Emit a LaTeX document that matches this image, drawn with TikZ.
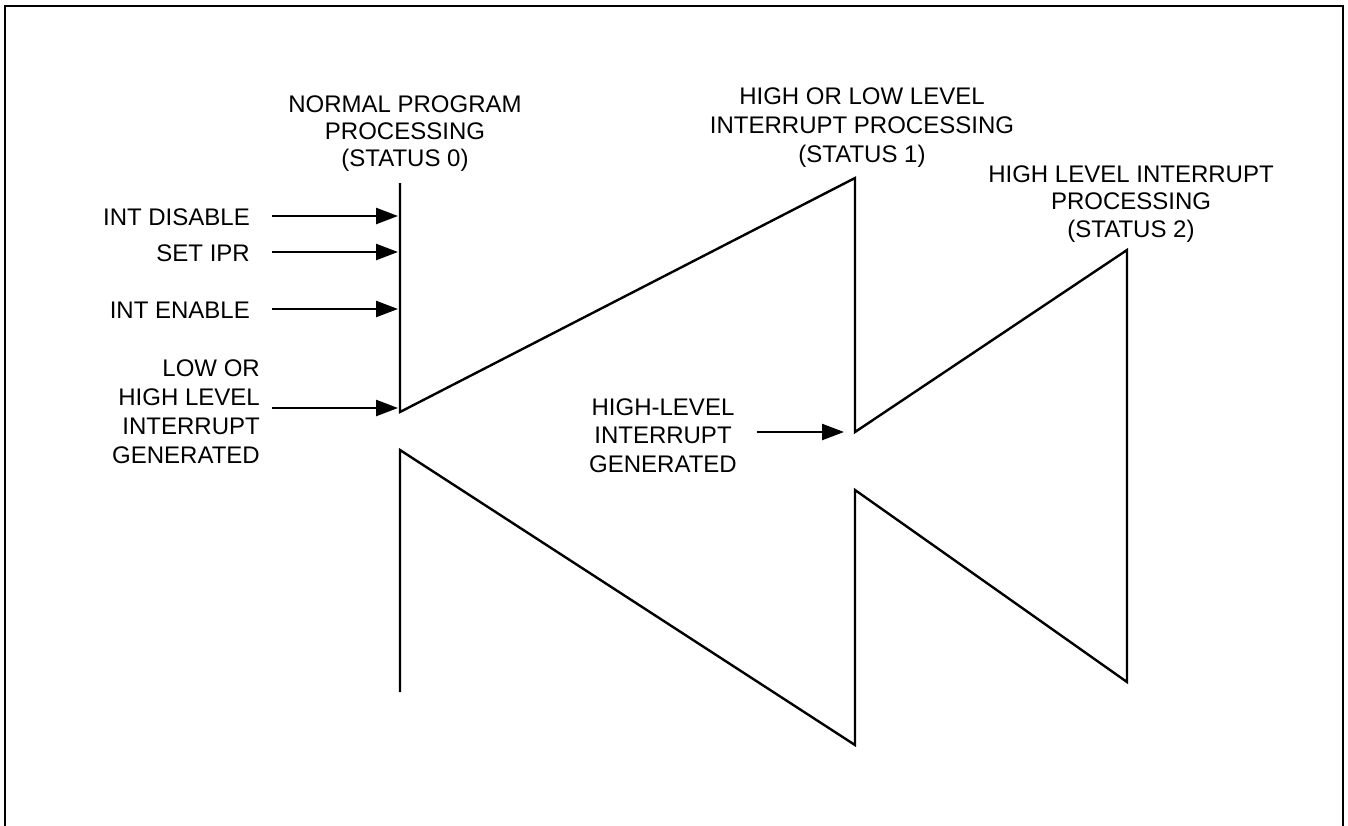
\documentclass[tikz,border=0pt]{standalone}
\usepackage{fontspec}
\setmainfont{Liberation Sans}
\usetikzlibrary{arrows.meta}
\tikzset{
  lbl/.style={inner sep=0pt, font=\fontsize{24}{29}\selectfont},
  ttl/.style={lbl, align=center, anchor=base},
  line/.style={line width=2.4pt, line join=miter},
  arr/.style={line width=2.4pt, -{Triangle[length=22pt,width=16pt]}},
  frame/.style={line width=2.4pt}
}
\begin{document}
\begin{tikzpicture}[x=1pt,y=-1pt]
\useasboundingbox (0,0) rectangle (1348,825);
% frame (open at bottom)
\coordinate (fbl) at (5,827);
\coordinate (ftl) at (5,6);
\coordinate (ftr) at (1343,6);
\coordinate (fbr) at (1343,827);
\draw[frame] (fbl) -- (ftl) -- (ftr) -- (fbr);

% zigzag
\coordinate (s0top) at (400,183);
\coordinate (v0) at (400,412);
\coordinate (p1) at (855,178);
\coordinate (v1) at (855,432);
\coordinate (p2) at (1127,250);
\coordinate (b2) at (1127,682);
\coordinate (q1) at (855,490);
\coordinate (b1) at (855,745);
\coordinate (s0b) at (400,450);
\coordinate (s0bot) at (400,692);
\draw[line] (s0top) -- (v0) -- (p1) -- (v1) -- (p2) -- (b2) -- (q1) -- (b1) -- (s0b) -- (s0bot);

% titles (anchor base = last line)
\node[ttl, font=\fontsize{24}{27}\selectfont] (t0) at (405,166) {NORMAL PROGRAM\\PROCESSING\\(STATUS 0)};
\node[ttl, font=\fontsize{24}{29}\selectfont] (t1) at (862,162) {HIGH OR LOW LEVEL\\INTERRUPT PROCESSING\\(STATUS 1)};
\node[ttl, font=\fontsize{24}{27.5}\selectfont] (t2) at (1131,237) {HIGH LEVEL INTERRUPT\\PROCESSING\\(STATUS 2)};

% left labels
\node[lbl, anchor=base east] (l1) at (250,225) {INT DISABLE};
\node[lbl, anchor=base east] (l2) at (250,261) {SET IPR};
\node[lbl, anchor=base east] (l3) at (250,318) {INT ENABLE};
\node[lbl, anchor=base east, align=right, font=\fontsize{24}{29}\selectfont] (l4) at (260,463) {LOW OR\\HIGH LEVEL\\INTERRUPT\\GENERATED};
\node[ttl, font=\fontsize{24}{28.5}\selectfont] (l5) at (663,472) {HIGH-LEVEL\\INTERRUPT\\GENERATED};

% arrows
\coordinate (a1s) at (272,216); \coordinate (a1e) at (398,216);
\coordinate (a2s) at (272,252); \coordinate (a2e) at (398,252);
\coordinate (a3s) at (272,309); \coordinate (a3e) at (398,309);
\coordinate (a4s) at (272,408); \coordinate (a4e) at (398,408);
\coordinate (a5s) at (757,432); \coordinate (a5e) at (844,432);
\draw[arr] (a1s) -- (a1e);
\draw[arr] (a2s) -- (a2e);
\draw[arr] (a3s) -- (a3e);
\draw[arr] (a4s) -- (a4e);
\draw[arr] (a5s) -- (a5e);
\end{tikzpicture}
\end{document}
